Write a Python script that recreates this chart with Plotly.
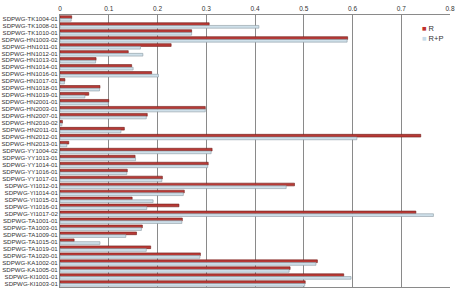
import plotly.graph_objects as go

categories = [
    "SDPWG-TK1004-01", "SDPWG-TK1008-01", "SDPWG-TK1010-01", "SDPWG-HN1003-02",
    "SDPWG-HN1011-01", "SDPWG-HN1012-01", "SDPWG-HN1013-01", "SDPWG-HN1014-01",
    "SDPWG-HN1016-01", "SDPWG-HN1017-01", "SDPWG-HN1018-01", "SDPWG-HN1019-01",
    "SDPWG-HN2001-01", "SDPWG-HN2003-01", "SDPWG-HN2007-01", "SDPWG-HN2010-02",
    "SDPWG-HN2011-01", "SDPWG-HN2012-01", "SDPWG-HN2013-01", "SDPWG-YY1004-02",
    "SDPWG-YY1013-01", "SDPWG-YY1014-01", "SDPWG-YY1016-01", "SDPWG-YY1017-01",
    "SDPWG-YI1012-01", "SDPWG-YI1014-01", "SDPWG-YI1015-01", "SDPWG-YI1016-01",
    "SDPWG-YI1017-02", "SDPWG-TA1001-01", "SDPWG-TA1003-01", "SDPWG-TA1009-01",
    "SDPWG-TA1015-01", "SDPWG-TA1019-01", "SDPWG-TA1020-01", "SDPWG-KA1002-01",
    "SDPWG-KA1005-01", "SDPWG-KI1001-01", "SDPWG-KI1003-01",
]

r_values = [
    0.024, 0.306, 0.270, 0.590, 0.228, 0.140, 0.074, 0.147, 0.188, 0.010,
    0.082, 0.059, 0.100, 0.298, 0.179, 0.005, 0.132, 0.740, 0.018, 0.312,
    0.154, 0.304, 0.138, 0.210, 0.481, 0.255, 0.148, 0.244, 0.730, 0.251,
    0.169, 0.157, 0.029, 0.186, 0.288, 0.528, 0.472, 0.582, 0.503,
]

rp_values = [
    0.023, 0.408, 0.270, 0.589, 0.165, 0.170, 0.073, 0.150, 0.202, 0.009,
    0.081, 0.051, 0.099, 0.298, 0.177, 0.004, 0.125, 0.609, 0.014, 0.310,
    0.155, 0.303, 0.137, 0.209, 0.464, 0.253, 0.191, 0.178, 0.766, 0.250,
    0.167, 0.135, 0.082, 0.177, 0.287, 0.525, 0.470, 0.597, 0.502,
]

series_names = ["R", "R+P"]
x_ticks = [0, 0.1, 0.2, 0.3, 0.4, 0.5, 0.6, 0.7, 0.8]

R_FILL, R_EDGE = "#b83a36", "#6e1c1a"
RP_FILL, RP_EDGE = "#cfe0ea", "#8c9aa2"
LEGEND_SWATCH = ["#c0302c", "#c6dbe9"]

fig = go.Figure()
fig.add_trace(go.Bar(
    name=series_names[0], y=categories, x=r_values, orientation="h",
    marker=dict(color=R_FILL, line=dict(color=R_EDGE, width=0.6)),
))
fig.add_trace(go.Bar(
    name=series_names[1], y=categories, x=rp_values, orientation="h",
    marker=dict(color=RP_FILL, line=dict(color=RP_EDGE, width=0.6)),
))

# compact legend (swatch + label) drawn as text annotations
legend_annots = []
for i, (name, col) in enumerate(zip(series_names, LEGEND_SWATCH)):
    legend_annots.append(dict(
        xref="paper", yref="paper", x=0.922, y=0.952 - i * 0.037,
        xanchor="left", yanchor="middle", showarrow=False,
        text=f"<span style='color:{col}'>■</span> {name}",
        font=dict(size=7.5, color="#333333"),
    ))

fig.update_layout(
    width=460, height=293,
    margin=dict(l=60, r=5, t=15, b=6),
    barmode="group", bargap=0.22, bargroupgap=0.0,
    paper_bgcolor="white", plot_bgcolor="white",
    font=dict(family="Liberation Sans, Arial, sans-serif", size=7, color="#333333"),
    showlegend=False,
    annotations=legend_annots,
    xaxis=dict(
        side="top", range=[0, 0.8], tickvals=x_ticks,
        ticktext=[str(v) for v in x_ticks],
        showgrid=True, gridcolor="#8a8a8a", gridwidth=1,
        showline=True, linecolor="#8a8a8a", linewidth=1, mirror=True,
        zeroline=False, ticks="", tickfont=dict(size=6.5, color="#333333"),
        fixedrange=True,
    ),
    yaxis=dict(
        autorange="reversed", type="category",
        tickmode="array", tickvals=categories, ticktext=categories,
        showline=True, linecolor="#8a8a8a", linewidth=1,
        showgrid=False, ticks="",
        tickfont=dict(size=6.1, color="#333333"),
        automargin=False,
    ),
)

fig.write_html("out.html")
